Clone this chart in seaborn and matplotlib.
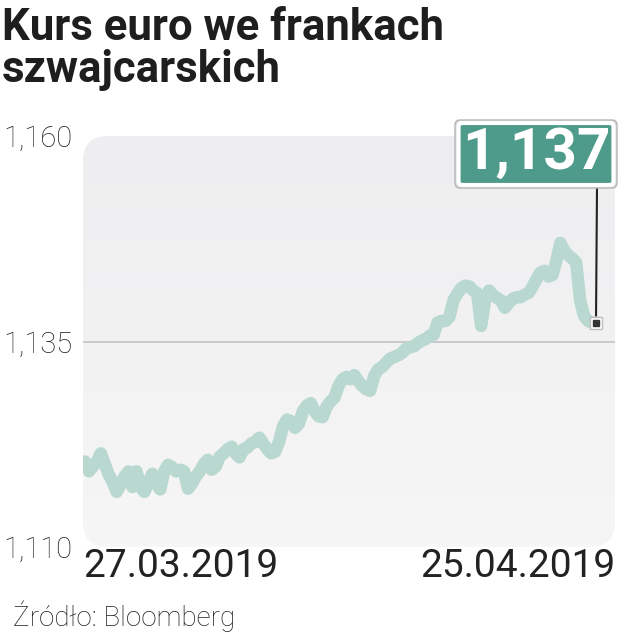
import matplotlib
matplotlib.use('Agg')
import matplotlib.pyplot as plt
import seaborn as sns
import numpy as np
from matplotlib.patches import FancyBboxPatch
from matplotlib import font_manager

# EUR/CHF, 27.03.2019 - 25.04.2019
rate = [1.1204, 1.1192, 1.1198, 1.1204, 1.1214, 1.1201, 1.1188, 1.1179, 1.1167, 1.1176,
        1.1186, 1.1192, 1.1173, 1.1192, 1.1173, 1.1167, 1.1179, 1.1189, 1.1177, 1.1170,
        1.1192, 1.1200, 1.1197, 1.1192, 1.1194, 1.1192, 1.1171, 1.1177, 1.1186, 1.1192,
        1.1201, 1.1206, 1.1194, 1.1198, 1.1210, 1.1214, 1.1219, 1.1222, 1.1214, 1.1209,
        1.1219, 1.1221, 1.1226, 1.1228, 1.1233, 1.1226, 1.1219, 1.1214, 1.1216, 1.1228,
        1.1247, 1.1255, 1.1253, 1.1245, 1.1250, 1.1265, 1.1272, 1.1275, 1.1265, 1.1259,
        1.1258, 1.1271, 1.1277, 1.1282, 1.1296, 1.1304, 1.1307, 1.1304, 1.1309, 1.1302,
        1.1296, 1.1292, 1.1290, 1.1308, 1.1316, 1.1319, 1.1324, 1.1329, 1.1331, 1.1333,
        1.1336, 1.1341, 1.1343, 1.1344, 1.1348, 1.1351, 1.1353, 1.1357, 1.1358, 1.1373,
        1.1375, 1.1375, 1.1380, 1.1400, 1.1408, 1.1415, 1.1418, 1.1417, 1.1412, 1.1409,
        1.1369, 1.1400, 1.1412, 1.1406, 1.1403, 1.1400, 1.1391, 1.1397, 1.1402, 1.1404,
        1.1404, 1.1407, 1.1409, 1.1417, 1.1426, 1.1434, 1.1436, 1.1429, 1.1431, 1.1448,
        1.1470, 1.1460, 1.1455, 1.1451, 1.1446, 1.1400, 1.1381, 1.1375, 1.1373, 1.1373]
step = list(range(len(rate)))
dates = ['27.03.2019', '25.04.2019']
yticks = [1.110, 1.135, 1.160]
ytick_labels = ['1,110', '1,135', '1,160']
last_label = '1,137'
title_lines = ['Kurs euro we frankach', 'szwajcarskich']
source = 'Źródło: Bloomberg'

available = {f.name for f in font_manager.fontManager.ttflist}
narrow = 'Liberation Sans Narrow' if 'Liberation Sans Narrow' in available else 'Roboto'
plain = 'Roboto' if 'Roboto' in available else 'DejaVu Sans'

W, H = 628, 634
def fx(px):
    return px / W
def fy(py):
    return 1 - py / H

sns.set_style('white')
fig = plt.figure(figsize=(W / 100, H / 100), dpi=100)
fig.set_facecolor('white')
ax = fig.add_axes([fx(83), fy(547), (615 - 83) / W, (547 - 136) / H])
ax.set_facecolor('none')
for s in ax.spines.values():
    s.set_visible(False)

# rounded, lightly shaded panel
panel = FancyBboxPatch((0, 0), 1, 1, boxstyle='round,pad=0,rounding_size=0.047',
                       mutation_aspect=532 / 411, transform=ax.transAxes,
                       fc='none', ec='none', clip_on=False)
ax.add_patch(panel)
grad = np.linspace(0, 1, 100).reshape(-1, 1)
cmap = matplotlib.colors.LinearSegmentedColormap.from_list('bg', ['#f6f6f6', '#eeeef0'])
img = ax.imshow(grad, cmap=cmap, aspect='auto', extent=(0, 1, 1, 0),
                transform=ax.transAxes, zorder=0)
img.set_clip_path(panel)

n = len(rate)
ax.set_xlim(-0.5, (n - 1) + 19 / 3.96)
ax.set_ylim(1.110, 1.160)
ax.axhline(1.135, color='#c6c6ca', lw=1.3, zorder=1)

sns.lineplot(x=step, y=rate, color='#b9d8d0', linewidth=9, ax=ax, zorder=2,
             solid_capstyle='round', solid_joinstyle='round')

# end point marker
ax.plot(step[-1], rate[-1], marker='s', ms=9, mfc='white', mec='#bdbdbd', mew=1, zorder=4)
ax.plot(step[-1], rate[-1], marker='s', ms=4.5, mfc='#333333', mec='#333333', zorder=5)

ax.set_yticks(yticks, labels=ytick_labels)
ax.tick_params(axis='y', length=0, pad=57.5, labelsize=21, labelcolor='#1e1e1e')
for t in ax.get_yticklabels():
    t.set_ha('left')
    t.set_fontfamily(plain)
    t.set_fontweight('light')

ax.set_xticks(list(ax.get_xlim()), labels=dates)
ax.tick_params(axis='x', length=0, pad=1, labelsize=28, labelcolor='#222222')
xl = ax.get_xticklabels()
xl[0].set_ha('left')
xl[1].set_ha('right')
for t in xl:
    t.set_fontfamily(plain)
    t.set_fontweight('normal')
ax.set_xlabel('')
ax.set_ylabel('')

# title and source
fig.text(fx(2), fy(40), title_lines[0], family=narrow, weight='bold', fontsize=31.5,
         color='#1e1e1e', va='baseline')
fig.text(fx(2), fy(82), title_lines[1], family=narrow, weight='bold', fontsize=31.5,
         color='#1e1e1e', va='baseline')
fig.text(fx(13), fy(626), source, family=plain, weight='light', fontsize=20,
         color='#1e1e1e', va='baseline')

# value callout
shadow = FancyBboxPatch((fx(455), fy(188)), 162 / W, 68 / H,
                        boxstyle='round,pad=0,rounding_size=0.008',
                        transform=fig.transFigure, fc='#d8d8d8', ec='#b8b8b8', lw=1)
box = FancyBboxPatch((fx(458.5), fy(185)), 155 / W, 62 / H,
                     boxstyle='round,pad=0,rounding_size=0.006',
                     transform=fig.transFigure, fc='#4e9a8b', ec='white', lw=3)
fig.add_artist(shadow)
fig.add_artist(box)
fig.text(fx(536), fy(153), last_label, family=narrow, weight='bold', fontsize=42,
         color='white', ha='center', va='center')
ax.annotate('', xy=(step[-1], rate[-1]), xytext=(fx(597), fy(188)),
            textcoords='figure fraction',
            arrowprops=dict(arrowstyle='-', color='#222222', lw=1.5,
                            shrinkA=0, shrinkB=5), zorder=3)

fig.savefig('out.png', dpi=100, facecolor='white')
